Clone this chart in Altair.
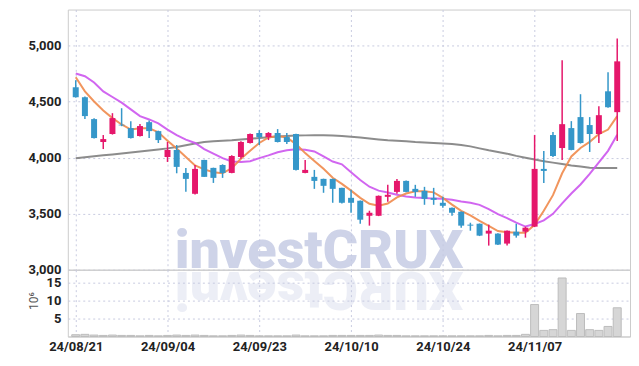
import altair as alt
import pandas as pd

dates = [
    "24/08/21", "24/08/22", "24/08/23", "24/08/26", "24/08/27", "24/08/28", "24/08/29", "24/08/30",
    "24/09/02", "24/09/03", "24/09/04", "24/09/05", "24/09/06", "24/09/09", "24/09/10", "24/09/11",
    "24/09/12", "24/09/13", "24/09/19", "24/09/20", "24/09/23", "24/09/24", "24/09/25", "24/09/26",
    "24/09/27", "24/09/30", "24/10/02", "24/10/04", "24/10/07", "24/10/08", "24/10/10", "24/10/11",
    "24/10/14", "24/10/15", "24/10/16", "24/10/17", "24/10/18", "24/10/21", "24/10/22", "24/10/23",
    "24/10/24", "24/10/25", "24/10/28", "24/10/29", "24/10/30", "24/10/31", "24/11/01", "24/11/04",
    "24/11/05", "24/11/06", "24/11/07", "24/11/08", "24/11/11", "24/11/12", "24/11/13", "24/11/14",
    "24/11/15", "24/11/18", "24/11/19", "24/11/20",
]
opens = [
    4627, 4538, 4343, 4139, 4210, 4293, 4263, 4192, 4316, 4236,
    4005, 4068, 3863, 3677, 3979, 3908, 3934, 3863, 4005, 4130,
    4219, 4183, 4219, 4183, 4210, 3863, 3828, 3810, 3810, 3730,
    3641, 3615, 3481, 3481, 3650, 3694, 3792, 3721, 3703, 3641,
    3597, 3552, 3517, 3402, 3410, 3322, 3322, 3233, 3339, 3339,
    3384, 3899, 4201, 4085, 4263, 4361, 4290, 4210, 4591, 4405,
]
highs = [
    4690, 4545, 4350, 4201, 4396, 4440, 4325, 4299, 4330, 4240,
    4139, 4112, 3908, 3934, 3980, 3910, 3940, 4020, 4145, 4215,
    4245, 4227, 4254, 4219, 4212, 3979, 3890, 3812, 3812, 3732,
    3712, 3618, 3526, 3662, 3757, 3810, 3795, 3757, 3739, 3730,
    3650, 3555, 3520, 3419, 3412, 3402, 3325, 3350, 3410, 3384,
    4201, 4059, 4227, 4867, 4325, 4565, 4361, 4458, 4760, 5062,
]
lows = [
    4535, 4343, 4170, 4076, 4205, 4280, 4170, 4188, 4174, 4130,
    3961, 3860, 3695, 3670, 3828, 3774, 3819, 3860, 3990, 4125,
    4112, 4156, 4135, 4121, 3885, 3860, 3721, 3686, 3597, 3590,
    3508, 3410, 3393, 3478, 3606, 3677, 3690, 3650, 3579, 3579,
    3552, 3481, 3375, 3348, 3300, 3215, 3220, 3215, 3286, 3286,
    3380, 3774, 4005, 3979, 4065, 4125, 4050, 4130, 4445, 4147,
]
closes = [
    4538, 4370, 4174, 4165, 4352, 4287, 4174, 4281, 4236, 4156,
    4068, 3917, 3810, 3899, 3828, 3819, 3863, 4014, 4139, 4210,
    4183, 4219, 4139, 4139, 3890, 3890, 3792, 3748, 3721, 3597,
    3597, 3446, 3508, 3659, 3668, 3792, 3694, 3694, 3632, 3623,
    3570, 3508, 3393, 3393, 3304, 3348, 3224, 3348, 3304, 3375,
    3899, 3881, 4014, 4298, 4068, 4130, 4210, 4378, 4449, 4858,
]
volumes = [
    0.5, 0.6, 0.4, 0.3, 0.4, 0.3, 0.3, 0.2, 0.3, 0.2,
    0.3, 0.4, 0.3, 0.4, 0.3, 0.2, 0.2, 0.3, 0.4, 0.3,
    0.2, 0.2, 0.2, 0.2, 0.4, 0.2, 0.2, 0.2, 0.3, 0.3,
    0.3, 0.3, 0.3, 0.4, 0.3, 0.3, 0.2, 0.2, 0.2, 0.2,
    0.2, 0.2, 0.2, 0.2, 0.2, 0.3, 0.2, 0.3, 0.3, 0.6,
    8.9, 1.7, 1.9, 16.3, 1.7, 6.4, 1.9, 1.7, 2.8, 8.0,
]
ma5 = [
    4716, 4590, 4500, 4420, 4352, 4295, 4250, 4262, 4262, 4225,
    4150, 4080, 4005, 3930, 3895, 3870, 3860, 3905, 3990, 4060,
    4130, 4180, 4192, 4180, 4120, 4040, 3970, 3900, 3820, 3765,
    3705, 3641, 3588, 3570, 3590, 3645, 3680, 3700, 3700, 3690,
    3640, 3580, 3525, 3485, 3435, 3390, 3345, 3335, 3330, 3330,
    3400, 3525, 3665, 3860, 4010, 4085, 4140, 4210, 4250, 4370,
]
ma20 = [
    4750, 4725, 4670, 4590, 4540, 4490, 4430, 4370, 4340, 4305,
    4250, 4200, 4160, 4130, 4075, 4035, 3995, 3965, 3960, 3968,
    3995, 4020, 4048, 4065, 4075, 4070, 4055, 4010, 3965, 3940,
    3870, 3800, 3740, 3705, 3688, 3668, 3652, 3643, 3640, 3634,
    3632, 3624, 3608, 3598, 3578, 3540, 3495, 3460, 3420, 3385,
    3408, 3440, 3498, 3592, 3680, 3760, 3855, 3958, 4060, 4203,
]
ma60 = [
    3995, 4003, 4012, 4020, 4028, 4037, 4045, 4054, 4063, 4072,
    4082, 4095, 4110, 4125, 4138, 4145, 4150, 4155, 4162, 4168,
    4175, 4182, 4188, 4192, 4196, 4198, 4199, 4199, 4197, 4192,
    4186, 4178, 4170, 4162, 4155, 4150, 4145, 4138, 4134, 4130,
    4126, 4121, 4112, 4100, 4082, 4065, 4050, 4035, 4015, 3998,
    3982, 3968, 3955, 3943, 3930, 3920, 3910, 3906, 3906, 3907,
]

UP = "#e5176b"
DOWN = "#3597c9"
GRID = "#c8cbe0"
FONT = "Roboto"

n = len(dates)
df = pd.DataFrame({
    "idx": list(range(n)), "date": dates, "open": opens, "high": highs,
    "low": lows, "close": closes, "vol": volumes,
    "ma5": ma5, "ma20": ma20, "ma60": ma60,
})
df["dir"] = ["up" if c >= o else "down" for o, c in zip(opens, closes)]

tick_idx = [0, 10, 20, 30, 40, 50]
label_js = "[" + ",".join("'%s'" % dates[i] for i in tick_idx) + "]"
label_expr = label_js + "[round(datum.value/10)]"

W = 564
xscale = alt.Scale(domain=[-0.32, 59.85], nice=False, zero=False)
x_top_axis = alt.Axis(values=tick_idx, labels=False, ticks=False, domain=False,
                      grid=True, gridColor=GRID, gridDash=[2, 3], title=None,
                      minExtent=0, maxExtent=0)
x_bot_axis = alt.Axis(values=tick_idx, labelExpr=label_expr, ticks=False, domain=True,
                      domainColor="#cccccc", grid=True, gridColor=GRID, gridDash=[2, 3],
                      title=None, labelFlush=False, labelPadding=4,
                      minExtent=0, maxExtent=20)

yscale = alt.Scale(domain=[3000, 5320], nice=False, zero=False)
y_axis = alt.Axis(values=[3000, 3500, 4000, 4500, 5000], format=",.0f", ticks=False,
                  domain=False, grid=True, gridColor=GRID, gridDash=[2, 3], title=None,
                  labelPadding=7, minExtent=52, maxExtent=52)

color = alt.Color("dir:N", scale=alt.Scale(domain=["up", "down"], range=[UP, DOWN]), legend=None)

def X(axis):
    return alt.X("idx:Q", scale=xscale, axis=axis)

def Yp(f):
    return alt.Y(f + ":Q", scale=yscale, axis=y_axis)

base = alt.Chart(df)
wicks = base.mark_rule(strokeWidth=1.5).encode(x=X(x_top_axis), y=Yp("low"), y2="high", color=color)
bodies = base.mark_bar(size=6).encode(x=X(x_top_axis), y=Yp("open"), y2="close", color=color)
l60 = base.mark_line(color="#808080", strokeWidth=2, opacity=0.9).encode(x=X(x_top_axis), y=Yp("ma60"))
l20 = base.mark_line(color="#cc55ee", strokeWidth=2, opacity=0.9).encode(x=X(x_top_axis), y=Yp("ma20"))
l5 = base.mark_line(color="#f08a4b", strokeWidth=2, opacity=0.9).encode(x=X(x_top_axis), y=Yp("ma5"))

wm = alt.Chart(pd.DataFrame({"t": ["investCRUX"]})).mark_text(
    font=FONT, fontSize=54, fontWeight=900, color="#c3c9e3", opacity=0.8,
    align="center", baseline="alphabetic"
).encode(text="t:N", x=alt.value(252), y=alt.value(259))

price = alt.layer(wm, l60, l20, l5, wicks, bodies).properties(width=W, height=261)

vscale = alt.Scale(domain=[0, 18.6], nice=False, zero=True)
v_axis = alt.Axis(values=[5, 10, 15], ticks=False, domain=False, grid=True,
                  gridColor=GRID, gridDash=[2, 3], title="10⁶", titleFont=FONT,
                  titleFontWeight="normal", titleFontSize=12, titleColor="#555555",
                  titleX=-34, titleY=31, titleAngle=-90, titleAlign="center",
                  titleBaseline="middle",
                  labelPadding=7, minExtent=52, maxExtent=52)

wm2 = alt.Chart(pd.DataFrame({"t": ["XURCtsevni"]})).mark_text(
    font=FONT, fontSize=54, fontWeight=900, color="#c3c9e3", opacity=0.3,
    align="center", baseline="alphabetic", angle=180
).encode(text="t:N", x=alt.value(252), y=alt.value(2))

vbars = base.mark_bar(size=8, color="#d6d6d6", stroke="#bdbdbd", strokeWidth=1).encode(
    x=X(x_bot_axis), y=alt.Y("vol:Q", scale=vscale, axis=v_axis)
)
volume = alt.layer(wm2, vbars).properties(width=W, height=67)

chart = alt.vconcat(price, volume, spacing=0, bounds="flush").properties(
    padding={"left": 7, "top": 0, "right": 0, "bottom": 0}
).configure_view(stroke="#cccccc").configure_axis(
    labelFont=FONT, labelFontSize=13, labelFontWeight="bold", labelColor="#222222"
)

chart.save("out.html", embed_options={"renderer": "svg", "actions": False})
